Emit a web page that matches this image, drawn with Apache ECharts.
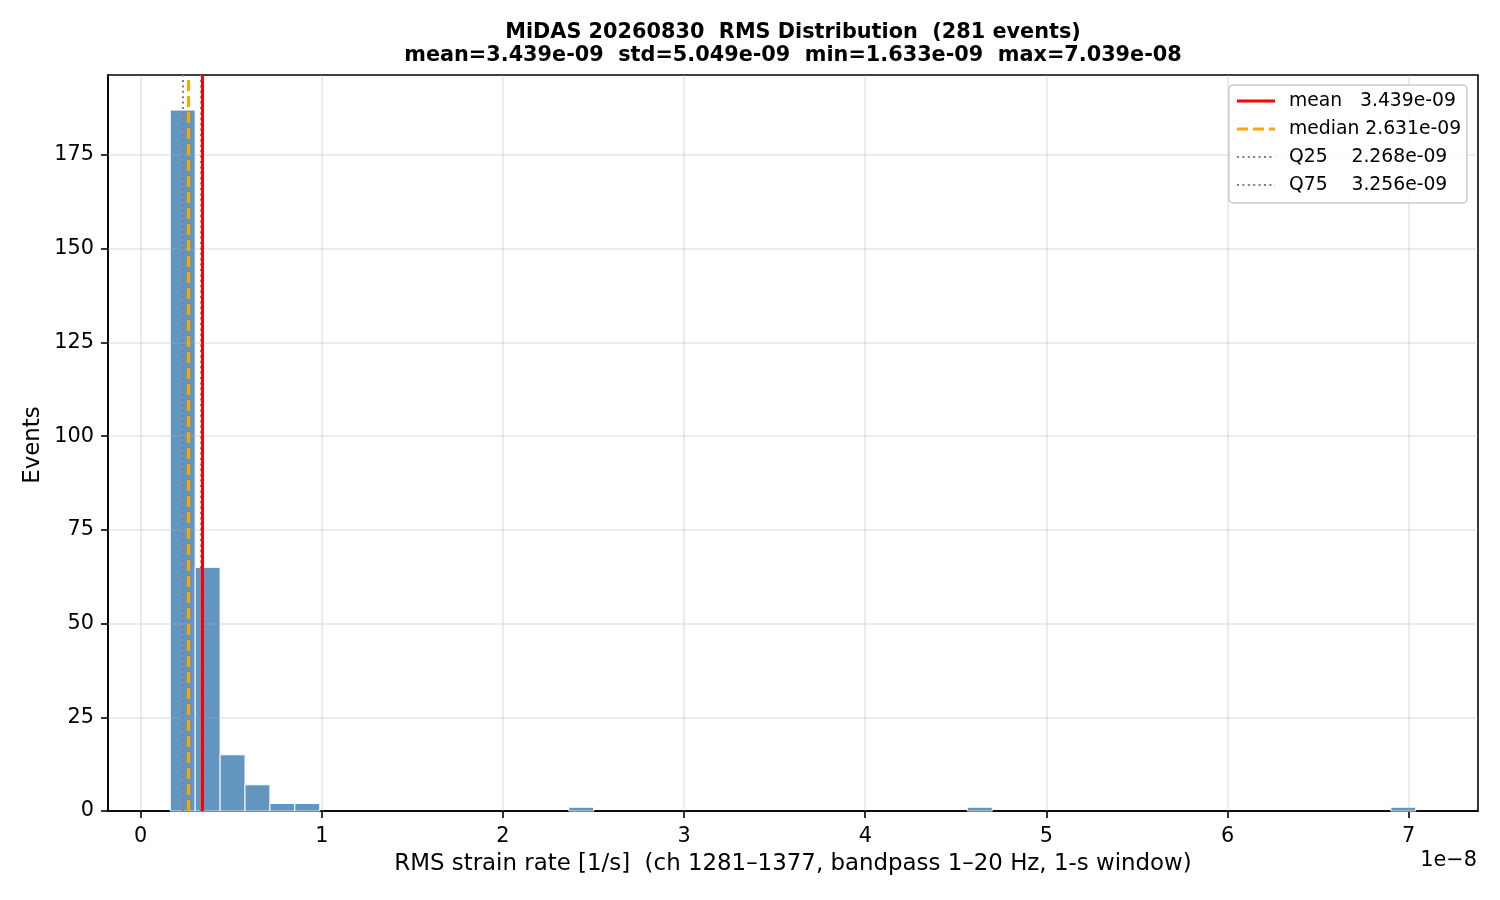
<!DOCTYPE html>
<html>
<head>
<meta charset="utf-8">
<script src="https://cdn.jsdelivr.net/npm/echarts@6/dist/echarts.min.js"></script>
<style>
html,body{margin:0;padding:0;background:#fff;}
#chart{width:1500px;height:900px;}
</style>
</head>
<body>
<div id="chart"></div>
<script>
// ---- data (x values in units of 1e-8 1/s) ----
var dataMin = 0.1633;   // 1.633e-09
var dataMax = 7.039;    // 7.039e-08
var nBins = 50;
var binCounts = [187, 65, 15, 7, 2, 2, 0, 0, 0, 0,
                 0, 0, 0, 0, 0, 0, 1, 0, 0, 0,
                 0, 0, 0, 0, 0, 0, 0, 0, 0, 0,
                 0, 0, 1, 0, 0, 0, 0, 0, 0, 0,
                 0, 0, 0, 0, 0, 0, 0, 0, 0, 1];
var statNames = ['mean', 'median', 'Q25', 'Q75'];
var statValues = [0.3439, 0.2631, 0.2268, 0.3256];
var statLabels = ['mean   3.439e-09', 'median 2.631e-09', 'Q25    2.268e-09', 'Q75    3.256e-09'];
var xTicks = [0, 1, 2, 3, 4, 5, 6, 7];
var yTicks = [0, 25, 50, 75, 100, 125, 150, 175];
var titleLines = ['MiDAS 20260830  RMS Distribution  (281 events)',
                  'mean=3.439e-09  std=5.049e-09  min=1.633e-09  max=7.039e-08'];
var xLabel = 'RMS strain rate [1/s]  (ch 1281\u20131377, bandpass 1\u201320 Hz, 1-s window)';
var yLabel = 'Events';
var offsetText = '1e\u22128';

// ---- build ----
var binWidth = (dataMax - dataMin) / nBins;
var histData = [];
for (var i = 0; i < nBins; i++) {
  if (binCounts[i] > 0) histData.push([dataMin + i * binWidth, dataMin + (i + 1) * binWidth, binCounts[i]]);
}
var span = dataMax - dataMin;
var xMin = dataMin - 0.05 * span, xMax = dataMax + 0.05 * span;
var yMax = Math.max.apply(null, binCounts) * 1.05;

var FONT = 'DejaVu Sans';
var statStyles = [
  {color: '#ff0000', width: 3, type: 'solid'},
  {color: '#ffa500', width: 3, type: [11, 5]},
  {color: '#808080', width: 2, type: [2, 3.4]},
  {color: '#808080', width: 2, type: [2, 3.4]}
];

var gridLineData = [];
xTicks.forEach(function (v) { gridLineData.push({xAxis: v}); });
yTicks.forEach(function (v) { if (v > 0) gridLineData.push({yAxis: v}); });

var statLineData = statValues.map(function (v, k) {
  return {xAxis: v, lineStyle: statStyles[k]};
});
// draw mean last (on top)
statLineData = [statLineData[2], statLineData[3], statLineData[1], statLineData[0]];

var axisLabelStyle = {color: '#000', fontFamily: FONT, fontSize: 20.8};

var graphics = [];
titleLines.forEach(function (t, k) {
  graphics.push({type: 'text', x: 793, y: 33 + k * 23, style: {text: t, fill: '#000', font: 'bold 20.8px "DejaVu Sans"', textAlign: 'center', textVerticalAlign: 'middle'}});
});
graphics.push({type: 'text', x: 793, y: 864, style: {text: xLabel, fill: '#000', font: '22.9px "DejaVu Sans"', textAlign: 'center', textVerticalAlign: 'middle'}});
graphics.push({type: 'text', x: 33, y: 445, rotation: Math.PI / 2, style: {text: yLabel, fill: '#000', font: '22.9px "DejaVu Sans"', textAlign: 'center', textVerticalAlign: 'middle'}});
graphics.push({type: 'text', x: 1477, y: 861, style: {text: offsetText, fill: '#000', font: '20.8px "DejaVu Sans"', textAlign: 'right', textVerticalAlign: 'middle'}});
// legend
graphics.push({type: 'rect', shape: {x: 1229, y: 85, width: 238, height: 118, r: 4}, style: {fill: 'rgba(255,255,255,0.8)', stroke: '#cccccc', lineWidth: 1.5}, z: 100});
statLabels.forEach(function (t, k) {
  var yy = 101 + k * 28;
  var st = statStyles[k];
  graphics.push({type: 'line', shape: {x1: 1237, y1: yy, x2: 1275, y2: yy}, style: {stroke: st.color, lineWidth: st.width, lineDash: st.type === 'solid' ? null : st.type}, z: 101});
  graphics.push({type: 'text', x: 1289, y: yy, style: {text: t, fill: '#000', font: '18.75px "DejaVu Sans"', textAlign: 'left', textVerticalAlign: 'middle'}, z: 101});
});

var chart = echarts.init(document.getElementById('chart'), null, {renderer: 'canvas'});
chart.setOption({
  animation: false,
  backgroundColor: '#fff',
  grid: {left: 108, right: 22, top: 75, bottom: 89, show: true, borderColor: '#000', borderWidth: 1.6, backgroundColor: 'transparent'},
  xAxis: {
    type: 'value', min: xMin, max: xMax,
    axisLine: {show: true, onZero: false, lineStyle: {color: '#000', width: 1.6}},
    axisTick: {show: true, length: 7, lineStyle: {color: '#000', width: 1.6}, customValues: xTicks},
    axisLabel: Object.assign({margin: 15, customValues: xTicks, formatter: function (v) { return String(v); }}, axisLabelStyle),
    splitLine: {show: false}
  },
  yAxis: {
    type: 'value', min: 0, max: yMax,
    axisLine: {show: true, onZero: false, lineStyle: {color: '#000', width: 1.6}},
    axisTick: {show: true, length: 7, lineStyle: {color: '#000', width: 1.6}, customValues: yTicks},
    axisLabel: Object.assign({margin: 14, padding: [9, 0, 0, 0], customValues: yTicks, formatter: function (v) { return String(v); }}, axisLabelStyle),
    splitLine: {show: false}
  },
  graphic: graphics,
  series: [
    {
      type: 'custom', z: 2,
      data: histData,
      renderItem: function (params, api) {
        var p0 = api.coord([api.value(0), api.value(2)]);
        var p1 = api.coord([api.value(1), 0]);
        return {type: 'rect', shape: {x: p0[0], y: p0[1], width: p1[0] - p0[0], height: p1[1] - p0[1]},
                style: {fill: 'rgba(70,130,180,0.85)', stroke: '#ffffff', lineWidth: 1}};
      },
      silent: true
    },
    {
      type: 'line', data: [], z: 3, silent: true,
      markLine: {silent: true, symbol: ['none', 'none'], label: {show: false}, animation: false,
        lineStyle: {color: 'rgba(176,176,176,0.3)', width: 1.6, type: 'solid'},
        emphasis: {disabled: true},
        data: gridLineData}
    },
    {
      type: 'line', data: [], z: 4, silent: true,
      markLine: {silent: true, symbol: ['none', 'none'], label: {show: false}, animation: false,
        emphasis: {disabled: true},
        data: statLineData}
    }
  ]
});
</script>
</body>
</html>
